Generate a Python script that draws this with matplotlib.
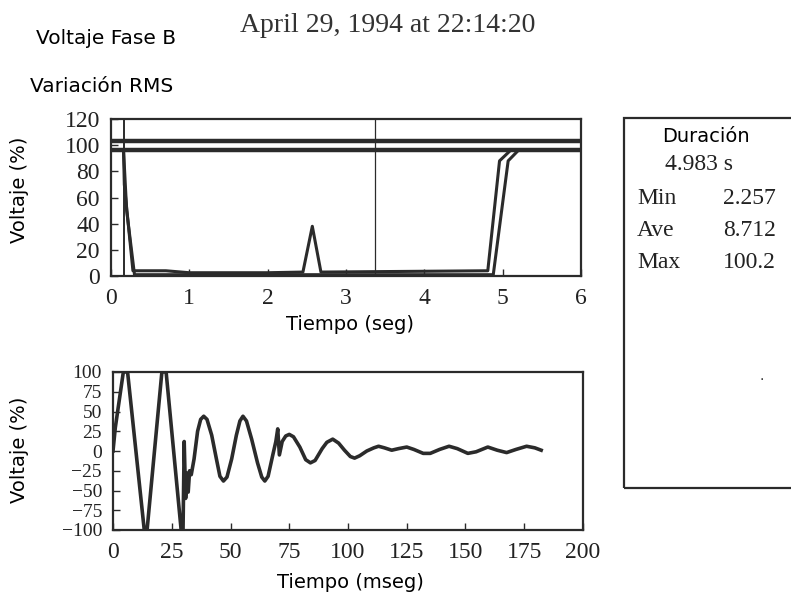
import matplotlib
matplotlib.use("Agg")
import matplotlib.pyplot as plt
from matplotlib.patches import Rectangle

W, H = 791, 596

# RMS trace (seconds, %) - two outline curves of the recorder trace
rms_t_a = [0.16, 0.17, 0.28, 0.70, 1.00, 2.00, 2.45, 2.57, 2.68, 4.81, 4.96, 5.10, 6.00]
rms_v_a = [96, 70, 4, 4, 2.5, 2.5, 3, 38, 3, 4, 88, 96, 96]
rms_t_b = [0.16, 0.20, 0.30, 4.88, 5.07, 5.20, 6.00]
rms_v_b = [96, 50, 1, 1, 88, 96, 96]
limit_levels = [103, 96]
markers_t = [0.16, 3.37]

# waveform (ms, %)
wave_t = [0, 1, 4.4, 6.2, 13.3, 14.5, 20.8, 22.6, 29.0, 29.8, 30.3, 30.9, 31.6, 32.0,
          32.6, 33.3, 34.5, 36.0, 37.3, 38.6, 40.0, 42.0, 44.0, 45.5, 47.0, 48.5,
          50.5, 52.5, 54.0, 55.3, 56.8, 59.0, 61.5, 63.3, 64.6, 66.0, 68.0, 69.3,
          70.1, 70.8, 72.0, 73.5, 75.0, 76.8, 79.5, 82.0, 84.0, 86.0, 89.0, 91.0,
          93.5, 96.0, 98.5, 101.0, 102.8, 105.0, 108.0, 111.0, 113.0, 115.5, 118.6,
          121.5, 125.0, 128.0, 132.0, 135.0, 139.0, 143.0, 146.5, 151.0, 154.5,
          159.5, 163.5, 167.5, 171.5, 176.0, 179.5, 182.2]
wave_v = [0, 30, 100, 100, -100, -100, 100, 100, -100, -100, 12, -60, -28, -52,
          -25, -30, -10, 25, 40, 44, 40, 20, -10, -32, -38, -33,
          -10, 20, 38, 44, 38, 15, -15, -33, -38, -32, -5, 12,
          28, -5, 12, 19, 21, 18, 5, -11, -15, -12, 3, 11,
          15, 10, 1, -7, -9, -6, 0, 4, 6, 4, 1,
          3, 5, 2, -3, -3, 2, 6, 3, -3, -1,
          5, 1, -2, 2, 6, 4, 1]

top_xticks = [0, 1, 2, 3, 4, 5, 6]
top_yticks = [0, 20, 40, 60, 80, 100, 120]
bot_xticks = [0, 25, 50, 75, 100, 125, 150, 175, 200]
bot_yticks = [-100, -75, -50, -25, 0, 25, 50, 75, 100]

stats_names = ["Min", "Ave", "Max"]
stats_vals = ["2.257", "8.712", "100.2"]

ink = "#2b2b2b"
serif = "Liberation Serif"
sans = "DejaVu Sans"

fig = plt.figure(figsize=(W / 100, H / 100), dpi=100)
fig.patch.set_facecolor("white")


def ax_px(left, top, right, bottom):
    return fig.add_axes([left / W, 1 - bottom / H, (right - left) / W, (bottom - top) / H])


def style(ax, fs_y):
    for s in ax.spines.values():
        s.set_color(ink)
        s.set_linewidth(1.6)
    ax.tick_params(direction="in", length=5, width=1.0, color=ink, top=False, right=False)
    ax.tick_params(axis="x", labelsize=17, pad=9, labelcolor="#222")
    ax.tick_params(axis="y", labelsize=fs_y, pad=8, labelcolor="#222")
    for lab in ax.get_xticklabels() + ax.get_yticklabels():
        lab.set_fontfamily(serif)


# top: RMS variation
ax1 = ax_px(111, 119, 581, 276)
for lv in limit_levels:
    ax1.axhline(lv, color=ink, lw=3.2)
for mt in markers_t:
    ax1.axvline(mt, color=ink, lw=1.4 if mt < 1 else 0.9)
ax1.plot(rms_t_a, rms_v_a, color=ink, lw=2.2)
ax1.plot(rms_t_b, rms_v_b, color=ink, lw=2.2)
ax1.set_xlim(0, 6)
ax1.set_ylim(0, 120)
ax1.set_xticks(top_xticks)
ax1.set_yticks(top_yticks)
style(ax1, 17)

# bottom: waveform
ax2 = ax_px(113, 372, 583, 530)
ax2.plot(wave_t, wave_v, color=ink, lw=2.6, solid_joinstyle="round")
ax2.set_xlim(0, 200)
ax2.set_ylim(-100, 100)
ax2.set_xticks(bot_xticks)
ax2.set_yticks(bot_yticks)
ax2.set_yticklabels([f"{v}".replace("-", "\u2212") for v in bot_yticks])
style(ax2, 14)

# labels
fig.text(20 / W, 1 - 190 / H, "Voltaje (%)", rotation=90, ha="center", va="center",
         fontsize=14, family=sans)
fig.text(20 / W, 1 - 450 / H, "Voltaje (%)", rotation=90, ha="center", va="center",
         fontsize=14, family=sans)
fig.text(350 / W, 1 - 325 / H, "Tiempo (seg)", ha="center", va="center", fontsize=14, family=sans)
fig.text(350 / W, 1 - 582 / H, "Tiempo (mseg)", ha="center", va="center", fontsize=14, family=sans)

fig.text(36 / W, 1 - 38 / H, "Voltaje Fase B", ha="left", va="center", fontsize=14.5, family=sans)
fig.text(30 / W, 1 - 87 / H, "Variación RMS", ha="left", va="center", fontsize=14.5, family=sans)
fig.text(388 / W, 1 - 25 / H, "April 29, 1994 at 22:14:20", ha="center", va="center",
         fontsize=20, family=serif, color="#333")

# summary box on the right
fig.patches.append(Rectangle((624 / W, 1 - 488 / H), 200 / W, 370 / H, transform=fig.transFigure,
                             fill=False, edgecolor=ink, lw=1.6))
fig.text(706 / W, 1 - 137 / H, "Duración", ha="center", va="center", fontsize=14, family=sans)
fig.text(699 / W, 1 - 165 / H, "4.983 s", ha="center", va="center", fontsize=17, family=serif, color="#222")
for i, (nm, vl) in enumerate(zip(stats_names, stats_vals)):
    y = 1 - (198 + 32.5 * i) / H
    fig.text(637 / W, y, nm, ha="left", va="center", fontsize=17, family=serif, color="#222")
    fig.text(776 / W, y, vl, ha="right", va="center", fontsize=17, family=serif, color="#222")
fig.text(762 / W, 1 - 383 / H, ".", ha="center", va="bottom", fontsize=10, color=ink)

fig.savefig("out.png", dpi=100)
